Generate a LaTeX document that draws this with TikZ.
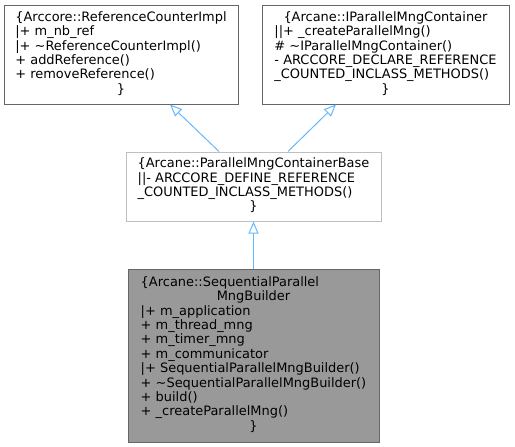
\documentclass[tikz,border=0pt]{standalone}
\usepackage{fontspec}
\setmainfont{DejaVu Sans}
\usetikzlibrary{arrows.meta,positioning}
\definecolor{edgeblue}{HTML}{63B8FF}
\newcommand{\ctr}[1]{\multicolumn{1}{@{}c@{}}{#1}}
\newcommand{\tld}{\textasciitilde}

\begin{document}
\begin{tikzpicture}[x=1pt, y=-1pt,
  cls/.style={rectangle, draw=black!60, fill=white, line width=1pt, inner sep=0pt,
              font=\fontsize{12.95}{14.4}\selectfont},
  base/.style={cls, draw=black!25},
  cur/.style={cls, fill=black!40},
  inh/.style={-{Triangle[open, length=12pt, width=10pt]}, line width=1pt, draw=edgeblue}
]
\useasboundingbox (0,0) rectangle (515,447);

\node[cls, minimum width=234pt, minimum height=99pt] (refcnt) at (121,54.5) {%
  \begin{tabular}{@{}l@{}}
  \ctr{\{Arccore::ReferenceCounterImpl}\\
  |+ m\_nb\_ref\\
  |+ \tld ReferenceCounterImpl()\\
  + addReference()\\
  + removeReference()\\
  \ctr{\}}
  \end{tabular}};

\node[cls, minimum width=247pt, minimum height=99pt] (icont) at (385.5,54.5) {%
  \begin{tabular}{@{}l@{}}
  \ctr{\{Arcane::IParallelMngContainer}\\
  ||+ \_createParallelMng()\\
  \# \tld IParallelMngContainer()\\
  - ARCCORE\_DECLARE\_REFERENCE\\
  \_COUNTED\_INCLASS\_METHODS()\\
  \ctr{\}}
  \end{tabular}};

\node[base, minimum width=255pt, minimum height=69pt] (contbase) at (253.5,186.5) {%
  \begin{tabular}{@{}l@{}}
  \ctr{\{Arcane::ParallelMngContainerBase}\\
  ||- ARCCORE\_DEFINE\_REFERENCE\\
  \_COUNTED\_INCLASS\_METHODS()\\
  \ctr{\}}
  \end{tabular}};

\node[cur, minimum width=251pt, minimum height=173pt] (seqbuilder) at (253.5,355.5) {%
  \begin{tabular}{@{}l@{}}
  \{Arcane::SequentialParallel\\
  \ctr{MngBuilder}\\
  |+ m\_application\\
  + m\_thread\_mng\\
  + m\_timer\_mng\\
  + m\_communicator\\
  |+ SequentialParallelMngBuilder()\\
  + \tld SequentialParallelMngBuilder()\\
  + build()\\
  + \_createParallelMng()\\
  \ctr{\}}
  \end{tabular}};

% inheritance
\draw[inh] ([xshift=-34.5pt]contbase.north) -- ([xshift=49pt]refcnt.south);
\draw[inh] ([xshift=34.5pt]contbase.north) -- ([xshift=-49.5pt]icont.south);
\draw[inh] (seqbuilder.north) -- (contbase.south);

\end{tikzpicture}
\end{document}
